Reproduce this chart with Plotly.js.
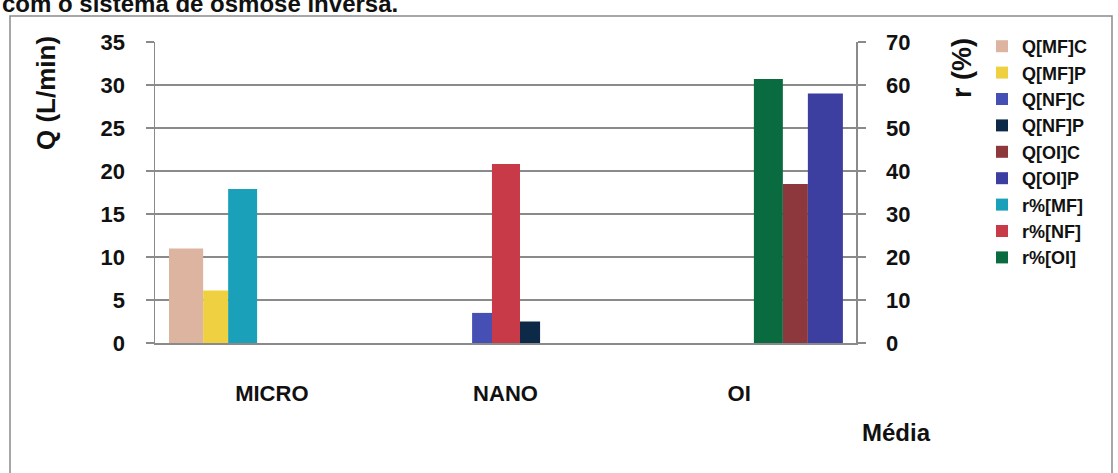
<!DOCTYPE html>
<html>
<head>
<meta charset="utf-8">
<script src="https://cdn.plot.ly/plotly-3.0.1.min.js"></script>
<style>html,body{margin:0;padding:0;background:#fff;}#chart{width:1118px;height:473px;}</style>
</head>
<body>
<div id="chart"></div>
<script>
// ---- data ----
const categories = ['MICRO', 'NANO', 'OI'];
const seriesNames = ['Q[MF]C', 'Q[MF]P', 'Q[NF]C', 'Q[NF]P', 'Q[OI]C', 'Q[OI]P', 'r%[MF]', 'r%[NF]', 'r%[OI]'];
const qMFC = [11, null, null];
const qMFP = [6.1, null, null];
const qNFC = [null, 3.5, null];
const qNFP = [null, 2.5, null];
const qOIC = [null, null, 18.5];
const qOIP = [null, null, 29];
const rMF = [35.8, null, null];
const rNF = [null, 41.6, null];
const rOI = [null, null, 61.4];
const leftTicks = [0, 5, 10, 15, 20, 25, 30, 35];
const rightTicks = [0, 10, 20, 30, 40, 50, 60, 70];

// ---- styles ----
const FONT = '"Liberation Sans", Arial, sans-serif';
const styles = [
  {color: '#dcb4a0', offset: -0.44, width: 0.146, axis: 'y'},
  {color: '#efd040', offset: -0.294, width: 0.107, axis: 'y'},
  {color: '#4650b4', offset: -0.143, width: 0.086, axis: 'y'},
  {color: '#0c2a48', offset: 0.062, width: 0.086, axis: 'y'},
  {color: '#8c383c', offset: 0.187, width: 0.107, axis: 'y'},
  {color: '#3c3ea0', offset: 0.294, width: 0.15, axis: 'y'},
  {color: '#1aa0b8', offset: -0.187, width: 0.124, axis: 'y2'},
  {color: '#c83a48', offset: -0.058, width: 0.12, axis: 'y2'},
  {color: '#0a6a40', offset: 0.063, width: 0.124, axis: 'y2'}
];
const values = [qMFC, qMFP, qNFC, qNFP, qOIC, qOIP, rMF, rNF, rOI];

const traces = values.map((v, i) => ({
  type: 'bar',
  name: seriesNames[i],
  x: categories,
  y: v,
  yaxis: styles[i].axis,
  offset: styles[i].offset,
  width: styles[i].width,
  marker: {color: styles[i].color, line: {width: 0}},
  legendgroup: 'g' + i
}));

// plot area in pixels
const L = 155, R = 856, T = 42, B = 343;
const W = 1118, H = 473;
const px = x => (x - L) / (R - L);
const py = y => (B - y) / (B - T);
const boldFont = (size) => ({family: FONT, size: size, color: '#111111', weight: 'bold'});

const layout = {
  width: W, height: H,
  margin: {l: L, r: W - R, t: T, b: H - B, pad: 0},
  paper_bgcolor: '#ffffff',
  plot_bgcolor: '#ffffff',
  barmode: 'overlay',
  showlegend: true,
  font: {family: FONT, color: '#111111'},
  xaxis: {
    type: 'category',
    range: [-0.5, 2.5],
    showgrid: false,
    showline: true, linecolor: '#8a8a8a', linewidth: 1.5,
    ticks: '', ticklabelstandoff: 30,
    tickfont: boldFont(22),
    zeroline: false
  },
  yaxis: {
    range: [0, 35], tickvals: leftTicks, ticktext: leftTicks.map(String),
    showgrid: true, gridcolor: '#8a8a8a', gridwidth: 1.2,
    showline: true, linecolor: '#8a8a8a', linewidth: 1.5,
    ticks: 'outside', ticklen: 8, tickcolor: '#8a8a8a', tickwidth: 1.2,
    ticklabelstandoff: 16,
    tickfont: boldFont(22),
    zeroline: false
  },
  yaxis2: {
    overlaying: 'y', side: 'right',
    range: [0, 70], tickvals: rightTicks, ticktext: rightTicks.map(String),
    showgrid: false,
    showline: true, linecolor: '#8a8a8a', linewidth: 1.5,
    ticks: 'outside', ticklen: 8, tickcolor: '#8a8a8a', tickwidth: 1.2,
    ticklabelstandoff: 16,
    tickfont: boldFont(22),
    zeroline: false
  },
  legend: {
    x: px(982), xanchor: 'left',
    y: py(28), yanchor: 'top',
    bgcolor: 'rgba(0,0,0,0)',
    font: boldFont(18),
    traceorder: 'normal',
    tracegroupgap: 4,
    itemwidth: 30,
    maxheight: 440
  },
  shapes: [
    {type: 'rect', xref: 'paper', yref: 'paper', x0: px(10), x1: px(1112), y0: py(490), y1: py(16),
     line: {color: '#8a8a8a', width: 1.5}, fillcolor: 'rgba(0,0,0,0)', layer: 'below'}
  ],
  annotations: [
    {text: '<b>com o sistema de osmose inversa.</b>', xref: 'paper', yref: 'paper',
     x: px(0), xanchor: 'left', y: py(19), yanchor: 'bottom', showarrow: false,
     font: {family: FONT, size: 24, color: '#111'}},
    {text: '<b>Q (L/min)</b>', xref: 'paper', yref: 'paper', textangle: -90,
     x: px(46), xanchor: 'center', y: py(93), yanchor: 'middle', showarrow: false,
     font: {family: FONT, size: 26, color: '#111'}},
    {text: '<b>r (%)</b>', xref: 'paper', yref: 'paper', textangle: -90,
     x: px(962), xanchor: 'center', y: py(68), yanchor: 'middle', showarrow: false,
     font: {family: FONT, size: 27, color: '#111'}},
    {text: '<b>Média</b>', xref: 'paper', yref: 'paper',
     x: px(896), xanchor: 'center', y: py(432), yanchor: 'middle', showarrow: false,
     font: {family: FONT, size: 24, color: '#111'}}
  ]
};

Plotly.newPlot('chart', traces, layout, {displayModeBar: false, staticPlot: true});
</script>
</body>
</html>
